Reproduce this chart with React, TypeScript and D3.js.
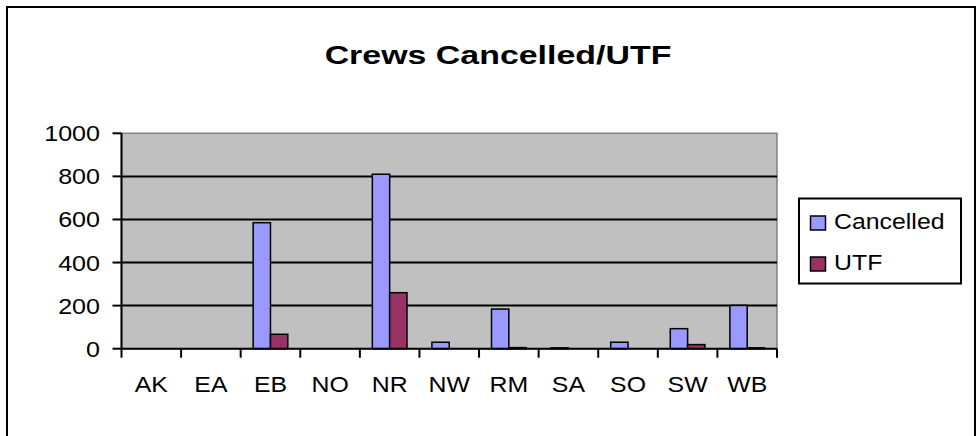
import React from "react";
import * as d3 from "d3";

const categories = ["AK", "EA", "EB", "NO", "NR", "NW", "RM", "SA", "SO", "SW", "WB"];
const cancelled = [0, 0, 585, 0, 810, 30, 184, 4, 30, 93, 201];
const utf = [0, 0, 67, 0, 260, 0, 5, 0, 0, 19, 4];
const yTicks = [0, 200, 400, 600, 800, 1000];
const seriesNames = ["Cancelled", "UTF"];
const seriesColors = ["#9999FF", "#993366"];

const W = 980;
const H = 436;
const plot = { left: 121.5, right: 777, top: 133.3, bottom: 348.7 };
const FONT = "Liberation Sans, Arial, sans-serif";

function SText(props: {
  x: number; y: number; size: number; sx: number; anchor?: string; bold?: boolean; children: React.ReactNode;
}) {
  const { x, y, size, sx, anchor = "start", bold = false, children } = props;
  return (
    <text
      transform={`translate(${x},${y}) scale(${sx},1)`}
      fontFamily={FONT}
      fontSize={size}
      fontWeight={bold ? "bold" : "normal"}
      textAnchor={anchor}
      fill="#000"
    >
      {children}
    </text>
  );
}

export default function App() {
  const x = d3.scaleBand<string>().domain(categories).range([plot.left, plot.right]).padding(0);
  const bw = x.bandwidth();
  const xs = d3.scaleBand<string>().domain(seriesNames).range([0, bw]).paddingInner(0).paddingOuter(0.72);
  const y = d3.scaleLinear().domain([0, 1000]).range([plot.bottom, plot.top]);
  const series = [cancelled, utf];
  const boundaries = categories.map((c) => x(c) as number).concat([plot.right]);

  return (
    <svg width={W} height={H} style={{ position: "absolute", left: 0, top: 0 }}>
      <rect x={0} y={0} width={W} height={H} fill="#fff" />
      <rect x={7} y={7} width={968} height={440} fill="#fff" stroke="#000" strokeWidth={2} />
      <SText x={498} y={64} size={25.5} sx={1.33} anchor="middle" bold>
        Crews Cancelled/UTF
      </SText>
      {/* plot area */}
      <rect x={plot.left} y={plot.top} width={plot.right - plot.left} height={plot.bottom - plot.top} fill="#C0C0C0" stroke="#808080" strokeWidth={1.5} />
      {yTicks.filter((t) => t > 0 && t < 1000).map((t) => (
        <line key={t} x1={plot.left} x2={plot.right} y1={y(t)} y2={y(t)} stroke="#000" strokeWidth={2} />
      ))}
      {/* bars */}
      {series.map((vals, si) =>
        categories.map((c, ci) => {
          const v = vals[ci];
          if (v <= 0) return null;
          const bx = (x(c) as number) + (xs(seriesNames[si]) as number);
          return (
            <rect
              key={`${si}-${c}`}
              x={bx}
              y={y(v)}
              width={xs.bandwidth()}
              height={y(0) - y(v)}
              fill={seriesColors[si]}
              stroke="#000"
              strokeWidth={1.5}
            />
          );
        })
      )}
      {/* axes */}
      <line x1={plot.left} x2={plot.left} y1={plot.top} y2={plot.bottom} stroke="#000" strokeWidth={2} />
      <line x1={plot.left} x2={plot.right} y1={plot.bottom} y2={plot.bottom} stroke="#000" strokeWidth={2} />
      {yTicks.map((t) => (
        <g key={t}>
          <line x1={plot.left - 9} x2={plot.left} y1={y(t)} y2={y(t)} stroke="#000" strokeWidth={2} />
          <SText x={100} y={y(t) + 8} size={22} sx={1.14} anchor="end">
            {t}
          </SText>
        </g>
      ))}
      {boundaries.map((b, i) => (
        <line key={i} x1={b} x2={b} y1={plot.bottom} y2={plot.bottom + 9} stroke="#000" strokeWidth={2} />
      ))}
      {categories.map((c) => (
        <SText key={c} x={(x(c) as number) + bw / 2} y={392} size={22} sx={1.13} anchor="middle">
          {c}
        </SText>
      ))}
      {/* legend */}
      <rect x={799} y={198.5} width={162} height={85} fill="#fff" stroke="#000" strokeWidth={2} />
      {seriesNames.map((n, i) => (
        <g key={n}>
          <rect x={810.5} y={216 + i * 41} width={15} height={14} fill={seriesColors[i]} stroke="#000" strokeWidth={1.5} />
          <SText x={834} y={229 + i * 41} size={22} sx={1.13}>
            {n}
          </SText>
        </g>
      ))}
    </svg>
  );
}
